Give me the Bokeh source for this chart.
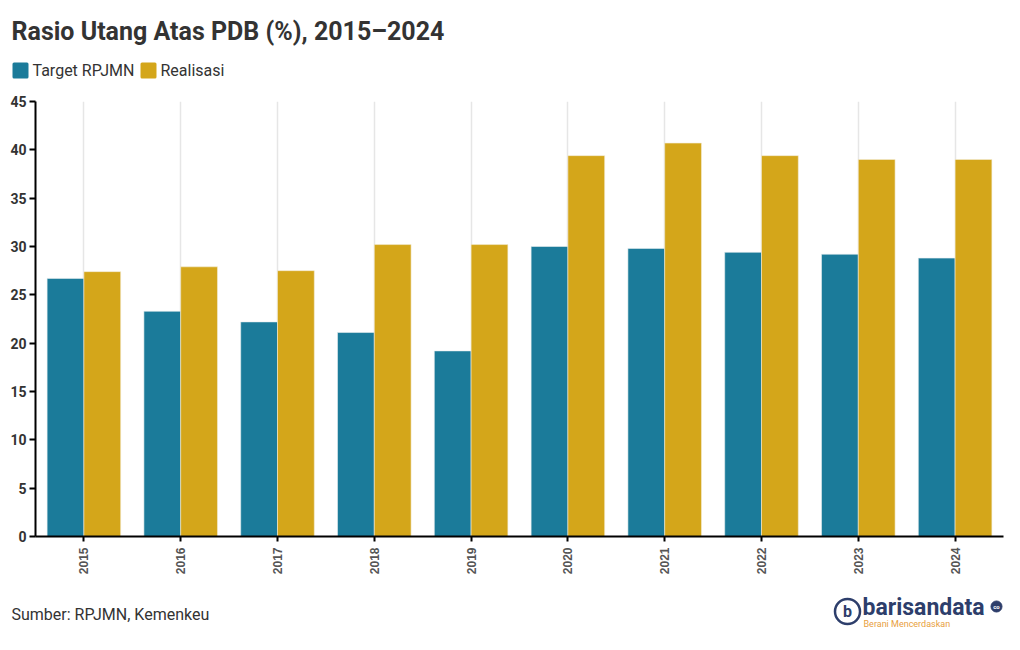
import math
from bokeh.plotting import figure
from bokeh.layouts import column
from bokeh.models import ColumnDataSource, FactorRange, Range1d, FixedTicker
from bokeh.transform import dodge
from bokeh.core.properties import value
from bokeh.embed import file_html
from bokeh.resources import INLINE

years = ["2015", "2016", "2017", "2018", "2019", "2020", "2021", "2022", "2023", "2024"]
target = [26.7, 23.3, 22.2, 21.1, 19.2, 30.0, 29.8, 29.4, 29.2, 28.8]
realisasi = [27.4, 27.9, 27.5, 30.2, 30.2, 39.4, 40.7, 39.4, 39.0, 39.0]
y_ticks = [0, 5, 10, 15, 20, 25, 30, 35, 40, 45]
series_names = ["Target RPJMN", "Realisasi"]
title_text = "Rasio Utang Atas PDB (%), 2015\u20132024"
source_text = "Sumber: RPJMN, Kemenkeu"

TEAL = "#1b7b9a"
GOLD = "#d4a61a"
NAVY = "#2d3e6b"
FONT = "Roboto"
W = 1004


def blank(height):
    f = figure(width=W, height=height, x_range=Range1d(0, W), y_range=Range1d(0, height),
               output_backend="svg", toolbar_location=None, x_axis_type=None, y_axis_type=None,
               min_border=0, min_border_left=0, min_border_right=0, min_border_top=0,
               min_border_bottom=0, frame_align=False)
    f.grid.grid_line_color = None
    f.outline_line_color = None
    f.background_fill_color = "white"
    f.border_fill_color = "white"
    return f


# ---------- header (title + legend) ----------
HH = 93
hdr = blank(HH)
hdr.text(x=[11], y=[HH - 31], text=[title_text], text_font=value(FONT), text_font_style="bold",
         text_font_size="25px", text_color="#333333", text_baseline="middle")
hdr.scatter(x=[20, 148], y=[HH - 70, HH - 70], marker="square", size=13,
            fill_color=[TEAL, GOLD], line_color=[TEAL, GOLD], line_width=3, line_join="round")
hdr.text(x=[32, 160], y=[HH - 70, HH - 70], text=series_names, text_font=value(FONT),
         text_font_size="16px", text_color="#333333", text_baseline="middle")

# ---------- main chart ----------
src = ColumnDataSource(dict(year=years, target=target, realisasi=realisasi))

p = figure(width=W, height=493, x_range=FactorRange(*years, range_padding=0),
           y_range=Range1d(0, 45), output_backend="svg", toolbar_location=None,
           min_border_left=35, min_border_right=1, min_border_top=8, min_border_bottom=50,
           frame_align=False)
p.outline_line_color = None
p.background_fill_color = "white"
p.border_fill_color = "white"

p.vbar(x=dodge("year", -0.19, range=p.x_range), top="target", width=0.38, source=src,
       fill_color=TEAL, line_color="#e8eef0", line_width=0.6)
p.vbar(x=dodge("year", 0.19, range=p.x_range), top="realisasi", width=0.38, source=src,
       fill_color=GOLD, line_color="#f3ecd6", line_width=0.6)

p.ygrid.grid_line_color = None
p.xgrid.grid_line_color = "#e6e6e6"
p.xgrid.grid_line_width = 1.5

p.yaxis.ticker = FixedTicker(ticks=y_ticks)
p.yaxis.axis_line_width = 2
p.yaxis.axis_line_color = "black"
p.yaxis.major_tick_line_width = 2
p.yaxis.major_tick_out = 6
p.yaxis.major_tick_in = 0
p.yaxis.minor_tick_line_color = None
p.yaxis.major_label_text_font = FONT
p.yaxis.major_label_text_font_style = "bold"
p.yaxis.major_label_text_font_size = "14px"
p.yaxis.major_label_text_color = "#333333"
p.yaxis.major_label_standoff = 3

p.xaxis.axis_line_width = 2
p.xaxis.axis_line_color = "black"
p.xaxis.major_tick_line_width = 2
p.xaxis.major_tick_out = 5
p.xaxis.major_tick_in = 0
p.xaxis.major_label_orientation = math.pi / 2
p.xaxis.major_label_text_font = "Liberation Sans"
p.xaxis.major_label_text_font_style = "bold"
p.xaxis.major_label_text_font_size = "12px"
p.xaxis.major_label_text_color = "#555555"
p.xaxis.major_label_standoff = 6

# ---------- footer (source + logo) ----------
FH = 48
ftr = blank(FH)
ftr.text(x=[11], y=[FH - 28], text=[source_text], text_font=value(FONT),
         text_font_size="16px", text_color="#333333", text_baseline="middle")
ftr.scatter(x=[847], y=[FH - 25], marker="circle", size=25, fill_color="white",
            line_color=NAVY, line_width=2.5)
ftr.text(x=[847], y=[FH - 25], text=["b"], text_font=value(FONT), text_font_style="bold",
         text_font_size="16px", text_color=NAVY, text_align="center", text_baseline="middle")
ftr.text(x=[862], y=[FH - 21], text=["barisandata"], text_font=value(FONT),
         text_font_style="bold", text_font_size="23px", text_color=NAVY,
         text_baseline="middle")
ftr.scatter(x=[996], y=[FH - 20], marker="circle", size=11, fill_color=NAVY,
            line_color=NAVY)
ftr.text(x=[996], y=[FH - 20], text=["co"], text_font=value(FONT), text_font_style="bold",
         text_font_size="6px", text_color="white", text_align="center",
         text_baseline="middle")
ftr.text(x=[863], y=[FH - 37], text=["Berani Mencerdaskan"], text_font=value(FONT),
         text_font_size="9px", text_color="#e8a040", text_baseline="middle")

layout = column(hdr, p, ftr, spacing=0)
open("out.html", "w").write(file_html(layout, INLINE))
